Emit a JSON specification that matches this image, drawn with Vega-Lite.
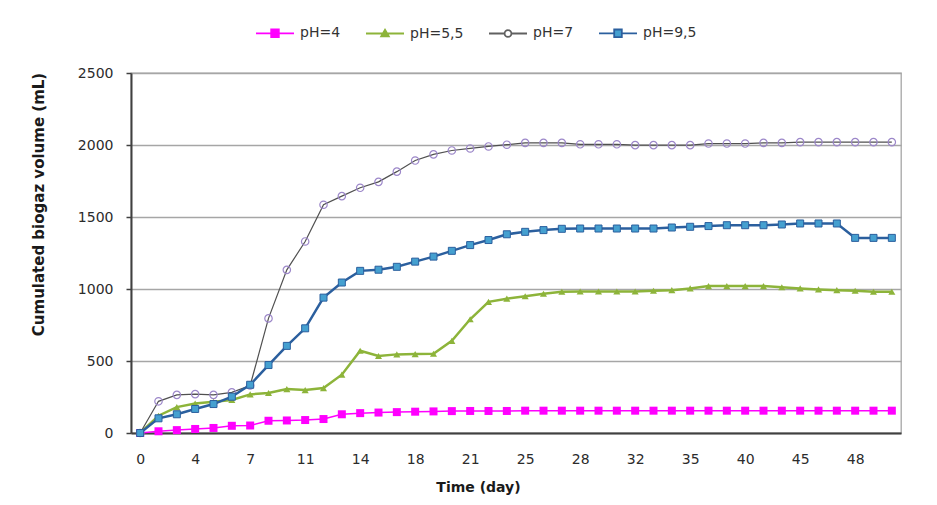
{
  "$schema": "https://vega.github.io/schema/vega-lite/v6.json",
  "width": 770,
  "height": 360,
  "autosize": "none",
  "padding": {"left": 131, "top": 73, "right": 36, "bottom": 72},
  "background": "white",
  "data": {"values": [
    {"s":"pH=4","d":0,"v":0},{"s":"pH=4","d":1,"v":12},{"s":"pH=4","d":2,"v":20},{"s":"pH=4","d":4,"v":28},{"s":"pH=4","d":5,"v":35},{"s":"pH=4","d":6,"v":50},{"s":"pH=4","d":7,"v":52},{"s":"pH=4","d":8,"v":85},{"s":"pH=4","d":9,"v":87},{"s":"pH=4","d":11,"v":90},{"s":"pH=4","d":12,"v":97},{"s":"pH=4","d":13,"v":130},{"s":"pH=4","d":14,"v":138},{"s":"pH=4","d":15,"v":142},{"s":"pH=4","d":16,"v":145},{"s":"pH=4","d":18,"v":148},{"s":"pH=4","d":19,"v":150},{"s":"pH=4","d":20,"v":152},{"s":"pH=4","d":21,"v":153},{"s":"pH=4","d":22,"v":153},{"s":"pH=4","d":23,"v":153},{"s":"pH=4","d":25,"v":155},{"s":"pH=4","d":26,"v":155},{"s":"pH=4","d":27,"v":155},{"s":"pH=4","d":28,"v":155},{"s":"pH=4","d":29,"v":155},{"s":"pH=4","d":30,"v":155},{"s":"pH=4","d":32,"v":155},{"s":"pH=4","d":33,"v":155},{"s":"pH=4","d":34,"v":155},{"s":"pH=4","d":35,"v":155},{"s":"pH=4","d":37,"v":155},{"s":"pH=4","d":38,"v":155},{"s":"pH=4","d":40,"v":155},{"s":"pH=4","d":42,"v":155},{"s":"pH=4","d":43,"v":155},{"s":"pH=4","d":45,"v":155},{"s":"pH=4","d":46,"v":155},{"s":"pH=4","d":47,"v":155},{"s":"pH=4","d":48,"v":155},{"s":"pH=4","d":49,"v":155},{"s":"pH=4","d":50,"v":155},
    {"s":"pH=5,5","d":0,"v":0},{"s":"pH=5,5","d":1,"v":120},{"s":"pH=5,5","d":2,"v":180},{"s":"pH=5,5","d":4,"v":205},{"s":"pH=5,5","d":5,"v":217},{"s":"pH=5,5","d":6,"v":229},{"s":"pH=5,5","d":7,"v":268},{"s":"pH=5,5","d":8,"v":278},{"s":"pH=5,5","d":9,"v":305},{"s":"pH=5,5","d":11,"v":298},{"s":"pH=5,5","d":12,"v":312},{"s":"pH=5,5","d":13,"v":405},{"s":"pH=5,5","d":14,"v":571},{"s":"pH=5,5","d":15,"v":535},{"s":"pH=5,5","d":16,"v":546},{"s":"pH=5,5","d":18,"v":548},{"s":"pH=5,5","d":19,"v":550},{"s":"pH=5,5","d":20,"v":640},{"s":"pH=5,5","d":21,"v":790},{"s":"pH=5,5","d":22,"v":911},{"s":"pH=5,5","d":23,"v":933},{"s":"pH=5,5","d":25,"v":950},{"s":"pH=5,5","d":26,"v":967},{"s":"pH=5,5","d":27,"v":981},{"s":"pH=5,5","d":28,"v":983},{"s":"pH=5,5","d":29,"v":983},{"s":"pH=5,5","d":30,"v":983},{"s":"pH=5,5","d":32,"v":983},{"s":"pH=5,5","d":33,"v":988},{"s":"pH=5,5","d":34,"v":992},{"s":"pH=5,5","d":35,"v":1004},{"s":"pH=5,5","d":37,"v":1020},{"s":"pH=5,5","d":38,"v":1020},{"s":"pH=5,5","d":40,"v":1020},{"s":"pH=5,5","d":42,"v":1020},{"s":"pH=5,5","d":43,"v":1012},{"s":"pH=5,5","d":45,"v":1004},{"s":"pH=5,5","d":46,"v":997},{"s":"pH=5,5","d":47,"v":992},{"s":"pH=5,5","d":48,"v":988},{"s":"pH=5,5","d":49,"v":981},{"s":"pH=5,5","d":50,"v":981},
    {"s":"pH=7","d":0,"v":0},{"s":"pH=7","d":1,"v":220},{"s":"pH=7","d":2,"v":265},{"s":"pH=7","d":4,"v":270},{"s":"pH=7","d":5,"v":265},{"s":"pH=7","d":6,"v":282},{"s":"pH=7","d":7,"v":330},{"s":"pH=7","d":8,"v":796},{"s":"pH=7","d":9,"v":1133},{"s":"pH=7","d":11,"v":1330},{"s":"pH=7","d":12,"v":1585},{"s":"pH=7","d":13,"v":1645},{"s":"pH=7","d":14,"v":1703},{"s":"pH=7","d":15,"v":1744},{"s":"pH=7","d":16,"v":1815},{"s":"pH=7","d":18,"v":1892},{"s":"pH=7","d":19,"v":1935},{"s":"pH=7","d":20,"v":1962},{"s":"pH=7","d":21,"v":1976},{"s":"pH=7","d":22,"v":1990},{"s":"pH=7","d":23,"v":2002},{"s":"pH=7","d":25,"v":2015},{"s":"pH=7","d":26,"v":2015},{"s":"pH=7","d":27,"v":2015},{"s":"pH=7","d":28,"v":2005},{"s":"pH=7","d":29,"v":2005},{"s":"pH=7","d":30,"v":2005},{"s":"pH=7","d":32,"v":1999},{"s":"pH=7","d":33,"v":1999},{"s":"pH=7","d":34,"v":1999},{"s":"pH=7","d":35,"v":1999},{"s":"pH=7","d":37,"v":2010},{"s":"pH=7","d":38,"v":2010},{"s":"pH=7","d":40,"v":2010},{"s":"pH=7","d":42,"v":2015},{"s":"pH=7","d":43,"v":2015},{"s":"pH=7","d":45,"v":2020},{"s":"pH=7","d":46,"v":2020},{"s":"pH=7","d":47,"v":2020},{"s":"pH=7","d":48,"v":2020},{"s":"pH=7","d":49,"v":2020},{"s":"pH=7","d":50,"v":2020},
    {"s":"pH=9,5","d":0,"v":0},{"s":"pH=9,5","d":1,"v":102},{"s":"pH=9,5","d":2,"v":130},{"s":"pH=9,5","d":4,"v":167},{"s":"pH=9,5","d":5,"v":201},{"s":"pH=9,5","d":6,"v":252},{"s":"pH=9,5","d":7,"v":335},{"s":"pH=9,5","d":8,"v":472},{"s":"pH=9,5","d":9,"v":605},{"s":"pH=9,5","d":11,"v":727},{"s":"pH=9,5","d":12,"v":940},{"s":"pH=9,5","d":13,"v":1045},{"s":"pH=9,5","d":14,"v":1126},{"s":"pH=9,5","d":15,"v":1134},{"s":"pH=9,5","d":16,"v":1154},{"s":"pH=9,5","d":18,"v":1190},{"s":"pH=9,5","d":19,"v":1225},{"s":"pH=9,5","d":20,"v":1265},{"s":"pH=9,5","d":21,"v":1305},{"s":"pH=9,5","d":22,"v":1340},{"s":"pH=9,5","d":23,"v":1380},{"s":"pH=9,5","d":25,"v":1397},{"s":"pH=9,5","d":26,"v":1409},{"s":"pH=9,5","d":27,"v":1418},{"s":"pH=9,5","d":28,"v":1420},{"s":"pH=9,5","d":29,"v":1420},{"s":"pH=9,5","d":30,"v":1420},{"s":"pH=9,5","d":32,"v":1420},{"s":"pH=9,5","d":33,"v":1420},{"s":"pH=9,5","d":34,"v":1427},{"s":"pH=9,5","d":35,"v":1432},{"s":"pH=9,5","d":37,"v":1437},{"s":"pH=9,5","d":38,"v":1443},{"s":"pH=9,5","d":40,"v":1443},{"s":"pH=9,5","d":42,"v":1443},{"s":"pH=9,5","d":43,"v":1448},{"s":"pH=9,5","d":45,"v":1455},{"s":"pH=9,5","d":46,"v":1455},{"s":"pH=9,5","d":47,"v":1455},{"s":"pH=9,5","d":48,"v":1355},{"s":"pH=9,5","d":49,"v":1355},{"s":"pH=9,5","d":50,"v":1355}
  ]},
  "encoding": {
    "x": {
      "field": "d", "type": "ordinal",
      "scale": {"type": "point", "padding": 0.5},
      "axis": {
        "title": "Time (day)",
        "values": [0, 4, 7, 11, 14, 18, 21, 25, 28, 32, 35, 40, 45, 48],
        "labelAngle": 0, "grid": false, "ticks": false,
        "domainColor": "#404040", "domainWidth": 2,
        "labelPadding": 19,
        "titleFontSize": 14, "titleX": 347, "titleY": 54,
        "titleAlign": "center", "titleBaseline": "middle"
      }
    },
    "y": {
      "field": "v", "type": "quantitative",
      "scale": {"domain": [0, 2500], "nice": false},
      "axis": {
        "title": "Cumulated biogaz volume (mL)",
        "values": [0, 500, 1000, 1500, 2000, 2500],
        "format": "d",
        "grid": true, "gridColor": "#A6A6A6", "gridWidth": 1.3,
        "domainColor": "#404040", "domainWidth": 2,
        "tickColor": "#404040", "tickSize": 5, "tickWidth": 1.5,
        "labelPadding": 13,
        "titleFontSize": 15, "titleX": -93, "titleY": 131,
        "titleAlign": "center", "titleBaseline": "middle", "titleAngle": -90
      }
    }
  },
  "layer": [
    {"transform": [{"filter": "datum.s === 'pH=4'"}], "mark": {"type": "line", "color": "#FF00FF", "strokeWidth": 1.5}},
    {"transform": [{"filter": "datum.s === 'pH=4'"}], "mark": {"type": "point", "shape": "square", "filled": true, "color": "#FF00FF", "size": 64, "opacity": 1}},
    {"transform": [{"filter": "datum.s === 'pH=5,5'"}], "mark": {"type": "line", "color": "#8DB43A", "strokeWidth": 2.5}},
    {"transform": [{"filter": "datum.s === 'pH=5,5'"}], "mark": {"type": "point", "shape": "triangle-up", "filled": true, "color": "#8DB43A", "size": 50, "opacity": 1}},
    {"transform": [{"filter": "datum.s === 'pH=7'"}], "mark": {"type": "line", "color": "#505050", "strokeWidth": 1.2}},
    {"transform": [{"filter": "datum.s === 'pH=7'"}], "mark": {"type": "point", "shape": "circle", "filled": false, "color": "#9C87C9", "strokeWidth": 1.2, "size": 55, "opacity": 1}},
    {"transform": [{"filter": "datum.s === 'pH=9,5'"}], "mark": {"type": "line", "color": "#2B5F9E", "strokeWidth": 2.5}},
    {"transform": [{"filter": "datum.s === 'pH=9,5'"}], "mark": {"type": "point", "shape": "square", "filled": true, "fill": "#45A0D0", "stroke": "#2B5F9E", "strokeWidth": 1, "size": 49, "opacity": 1}},
    {
      "mark": {"type": "point", "opacity": 0},
      "encoding": {
        "shape": {
          "field": "s", "type": "nominal",
          "scale": {"domain": ["pH=4", "pH=5,5", "pH=7", "pH=9,5"], "range": [
            "M-1,0H-0.2M0.2,0H1M-0.2,-0.2H0.2V0.2H-0.2Z",
            "M-1,0H-0.11M0.11,0H1M0,-0.2L0.2,0.15H-0.2Z",
            "M-1,0H-0.18M0.18,0H1M0.18,0A0.18,0.18,0,1,1,-0.18,0A0.18,0.18,0,1,1,0.18,0Z",
            "M-1,0H-0.2M0.2,0H1M-0.2,-0.2H0.2V0.2H-0.2Z"
          ]},
          "legend": {"title": null, "orient": "none", "legendX": 124, "legendY": -60, "direction": "horizontal", "columns": 4}
        },
        "stroke": {
          "field": "s", "type": "nominal",
          "scale": {"domain": ["pH=4", "pH=5,5", "pH=7", "pH=9,5"], "range": ["#FF00FF", "#8DB43A", "#606060", "#2B5F9E"]},
          "legend": {"title": null, "orient": "none", "legendX": 124, "legendY": -60, "direction": "horizontal", "columns": 4}
        },
        "fill": {
          "field": "s", "type": "nominal",
          "scale": {"domain": ["pH=4", "pH=5,5", "pH=7", "pH=9,5"], "range": ["#FF00FF", "#8DB43A", "#FFFFFF", "#45A0D0"]},
          "legend": {"title": null, "orient": "none", "legendX": 124, "legendY": -60, "direction": "horizontal", "columns": 4}
        }
      }
    }
  ],
  "config": {
    "font": "DejaVu Sans",
    "view": {"stroke": "#A6A6A6", "strokeWidth": 1.3},
    "axis": {
      "labelFont": "DejaVu Sans", "labelFontSize": 14, "labelColor": "#2b2b2b",
      "titleFont": "DejaVu Sans", "titleFontWeight": "bold", "titleColor": "#1a1a1a"
    },
    "legend": {
      "symbolSize": 1444, "symbolStrokeWidth": 1.8,
      "labelFont": "DejaVu Sans", "labelFontSize": 14, "labelColor": "#333333",
      "labelOffset": 5, "columnPadding": 21, "padding": 0, "symbolOpacity": 1
    }
  }
}
